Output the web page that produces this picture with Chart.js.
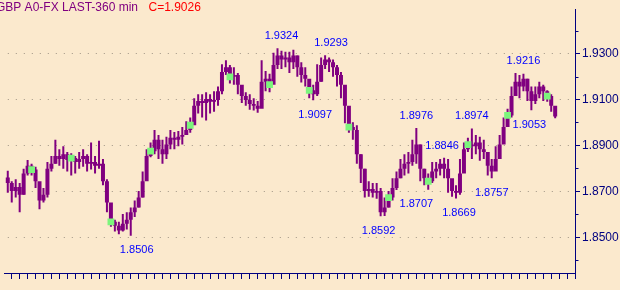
<!DOCTYPE html>
<html><head><meta charset="utf-8">
<script src="https://cdn.jsdelivr.net/npm/chart.js@4"></script>
<style>html,body{margin:0;padding:0;background:#fbe9cd;}canvas{display:block}</style>
</head><body>
<canvas id="c" width="620" height="290"></canvas>
<script>
// ---- data (360-min bars) ----
const closes = [
1.8736,1.8702,1.8719,1.8685,1.8778,1.8812,1.8795,1.8744,1.8660,1.8685,
1.8799,1.8820,1.8854,1.8841,1.8862,1.8837,1.8845,1.8828,1.8841,1.8854,
1.8820,1.8828,1.8812,1.8820,1.8744,1.8651,1.8567,1.8550,1.8529,1.8559,
1.8576,1.8609,1.8630,1.8673,1.8744,1.8854,1.8875,1.8925,1.8883,1.8862,
1.8904,1.8934,1.8925,1.8938,1.8946,1.8967,1.8988,1.9073,1.9094,1.9085,
1.9102,1.9090,1.9098,1.9136,1.9220,1.9241,1.9199,1.9207,1.9165,1.9115,
1.9098,1.9081,1.9073,1.9060,1.9178,1.9191,1.9165,1.9250,1.9292,1.9275,
1.9283,1.9262,1.9292,1.9241,1.9207,1.9191,1.9140,1.9123,1.9178,1.9250,
1.9275,1.9262,1.9241,1.9207,1.9165,1.9073,1.8980,1.8967,1.8862,1.8799,
1.8702,1.8710,1.8694,1.8702,1.8609,1.8630,1.8673,1.8715,1.8757,1.8799,
1.8820,1.8828,1.8862,1.8904,1.8799,1.8757,1.8744,1.8786,1.8799,1.8820,
1.8799,1.8757,1.8702,1.8694,1.8778,1.8883,1.8904,1.8896,1.8913,1.8883,
1.8871,1.8812,1.8786,1.8841,1.8904,1.8980,1.9031,1.9115,1.9178,1.9157,
1.9191,1.9136,1.9094,1.9123,1.9157,1.9136,1.9115,1.9073,1.9026];
const highs = [
1.8790,1.8744,1.8753,1.8736,1.8799,1.8837,1.8820,1.8807,1.8727,1.8715,
1.8828,1.8854,1.8925,1.8883,1.8896,1.8871,1.8866,1.8854,1.8871,1.8883,
1.8862,1.8913,1.8854,1.8921,1.8841,1.8753,1.8601,1.8576,1.8567,1.8601,
1.8609,1.8630,1.8660,1.8702,1.8786,1.8883,1.8913,1.8967,1.8946,1.8925,
1.8938,1.8967,1.8959,1.8963,1.8980,1.9005,1.9022,1.9106,1.9123,1.9123,
1.9132,1.9123,1.9136,1.9157,1.9254,1.9271,1.9250,1.9241,1.9216,1.9157,
1.9132,1.9123,1.9106,1.9094,1.9271,1.9224,1.9212,1.9304,1.9324,1.9313,
1.9308,1.9308,1.9317,1.9292,1.9262,1.9241,1.9178,1.9165,1.9254,1.9283,
1.9293,1.9283,1.9275,1.9250,1.9220,1.9123,1.9022,1.9001,1.8988,1.8862,
1.8799,1.8744,1.8736,1.8736,1.8715,1.8673,1.8702,1.8757,1.8786,1.8841,
1.8862,1.8871,1.8925,1.8976,1.8904,1.8799,1.8778,1.8828,1.8828,1.8841,
1.8846,1.8841,1.8736,1.8727,1.8841,1.8913,1.8934,1.8974,1.8946,1.8938,
1.8925,1.8871,1.8841,1.8896,1.8946,1.9022,1.9060,1.9157,1.9216,1.9207,
1.9212,1.9191,1.9157,1.9157,1.9178,1.9165,1.9140,1.9123,1.9064];
const lows = [
1.8694,1.8651,1.8673,1.8609,1.8685,1.8769,1.8769,1.8715,1.8622,1.8651,
1.8673,1.8786,1.8820,1.8812,1.8799,1.8786,1.8769,1.8778,1.8799,1.8807,
1.8786,1.8795,1.8778,1.8799,1.8727,1.8609,1.8546,1.8525,1.8513,1.8525,
1.8534,1.8506,1.8588,1.8630,1.8673,1.8786,1.8849,1.8862,1.8841,1.8820,
1.8841,1.8883,1.8883,1.8896,1.8904,1.8946,1.8955,1.9009,1.9039,1.9022,
1.9009,1.9039,1.9047,1.9073,1.9123,1.9207,1.9170,1.9165,1.9123,1.9085,
1.9073,1.9056,1.9052,1.9043,1.9073,1.9136,1.9132,1.9178,1.9233,1.9233,
1.9241,1.9216,1.9233,1.9199,1.9174,1.9157,1.9106,1.9097,1.9115,1.9178,
1.9233,1.9220,1.9199,1.9157,1.9106,1.8997,1.8955,1.8925,1.8820,1.8736,
1.8673,1.8677,1.8673,1.8668,1.8592,1.8593,1.8630,1.8660,1.8706,1.8757,
1.8769,1.8778,1.8812,1.8820,1.8744,1.8727,1.8707,1.8736,1.8757,1.8769,
1.8757,1.8694,1.8677,1.8669,1.8685,1.8820,1.8871,1.8841,1.8862,1.8833,
1.8841,1.8769,1.8757,1.8799,1.8862,1.8925,1.8997,1.9022,1.9123,1.9106,
1.9136,1.9094,1.9053,1.9081,1.9106,1.9094,1.9090,1.9047,1.9018];
const firstOpen = 1.8760;
const markerBars = [6,16,26,36,46,56,66,76,86,96,106,116,126,136];
const peakBars   = [32.5, 69, 77.5, 81.5, 93.5, 103, 103, 109.5, 113.75, 117, 122, 130, 131.5];
const peakValues = [1.8506,1.9324,1.9097,1.9293,1.8592,1.8976,1.8707,1.8846,1.8669,1.8974,1.8757,1.9216,1.9053];
const peakKinds  = ['L','H','L','H','L','H','L','H','L','H','L','H','L'];
const yTickValues  = [1.85,1.87,1.89,1.91,1.93];
const yMinorValues = [1.84,1.86,1.88,1.90,1.92,1.94];
const titleText = 'GBP A0-FX LAST-360 min';
const lastText  = 'C=1.9026';

// ---- styling ----
const PURPLE = '#800080', BG = '#fbe9cd', NAVY = '#000080', BLUE = '#0000ff', DOT = '#a09484', GREEN = '#7cf57c', RED = '#ff0000';
const FONT = '"Liberation Sans", Arial, sans-serif';

const idx = closes.map((_, i) => i);
const opens = closes.map((c, i) => i === 0 ? firstOpen : closes[i - 1]);
const wickData = idx.map(i => ({x: i, y: [lows[i], highs[i]]}));
const bodyData = idx.map(i => ({x: i, y: [opens[i], closes[i]]}));
const markerData = markerBars.map(i => ({x: i, y: closes[i]}));
const xTickIdx = [];
for (let v = 0; v <= 142; v += 2) xTickIdx.push(v);

const decor = {
  id: 'decor',
  beforeDraw(chart) {
    const ctx = chart.ctx;
    ctx.save(); ctx.fillStyle = BG; ctx.fillRect(0, 0, chart.width, chart.height); ctx.restore();
  },
  afterDraw(chart) {
    const {ctx, scales: {x, y}} = chart;
    ctx.save();
    ctx.strokeStyle = NAVY; ctx.lineWidth = 1;
    yMinorValues.forEach(v => {
      const py = Math.round(y.getPixelForValue(v)) + 0.5;
      ctx.beginPath(); ctx.moveTo(y.left, py); ctx.lineTo(y.left + 3.5, py); ctx.stroke();
    });
    ctx.font = '11px ' + FONT; ctx.fillStyle = BLUE; ctx.textAlign = 'center'; ctx.textBaseline = 'alphabetic';
    peakBars.forEach((b, k) => {
      const px = x.getPixelForValue(b);
      const py = y.getPixelForValue(peakValues[k]);
      const by = peakKinds[k] === 'H' ? py - 9 : py + 17.5;
      ctx.fillText(peakValues[k].toFixed(4), px, by);
    });
    ctx.font = '12px ' + FONT; ctx.textAlign = 'right'; ctx.fillStyle = PURPLE;
    ctx.fillText(titleText, 138, 11);
    ctx.textAlign = 'left'; ctx.fillStyle = RED;
    ctx.fillText(lastText, 148.5, 11);
    ctx.restore();
  }
};

new Chart(document.getElementById('c'), {
  type: 'bar',
  data: { datasets: [
    { type: 'line', data: markerData, showLine: false, pointStyle: 'rect', pointRadius: 4.8,
      pointBackgroundColor: GREEN, pointBorderWidth: 0, order: 0 },
    { data: bodyData, barThickness: 4, grouped: false,
      backgroundColor: PURPLE, borderWidth: 0, borderSkipped: false, inflateAmount: 0, order: 1 },
    { data: wickData, barThickness: 2, grouped: false, backgroundColor: PURPLE,
      borderWidth: 0, inflateAmount: 0, order: 2 }
  ]},
  options: {
    responsive: false, animation: false, devicePixelRatio: 1,
    layout: { padding: 0 },
    events: [],
    plugins: { legend: {display: false}, tooltip: {enabled: false}, title: {display: false} },
    scales: {
      x: { type: 'linear', min: -0.75, max: 143, offset: false, position: 'bottom',
        afterBuildTicks: s => { s.ticks = xTickIdx.map(v => ({value: v})); },
        afterFit: s => { s.height = 17; },
        ticks: { display: false },
        grid: { drawOnChartArea: false, drawTicks: true, tickLength: 6, color: NAVY, tickColor: NAVY, lineWidth: 1 },
        border: { display: true, color: NAVY, width: 1 } },
      y: { position: 'right', min: 1.834421, max: 1.949368,
        afterBuildTicks: s => { s.ticks = yTickValues.map(v => ({value: v})); },
        afterFit: s => { s.width = 45; },
        ticks: { color: NAVY, font: {family: FONT, size: 12}, padding: 2, callback: v => Number(v).toFixed(4) },
        grid: { drawOnChartArea: true, drawTicks: true, tickLength: 5, color: DOT, tickColor: NAVY, lineWidth: 1 },
        border: { display: true, color: NAVY, width: 1, dash: [1, 7], dashOffset: 5 } }
    }
  },
  plugins: [decor]
});
</script>
</body></html>
